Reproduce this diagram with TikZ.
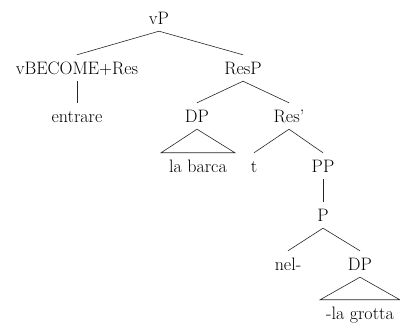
\documentclass[tikz,border=0pt]{standalone}
\begin{document}
\begin{tikzpicture}[x=1pt,y=-1pt,
  lbl/.style={anchor=base,font=\fontsize{18}{21}\selectfont,
    text height=12pt,text depth=4pt,inner ysep=2pt,inner xsep=2pt},
  branch/.style={line width=0.6pt,black!85}]
\useasboundingbox (0,0) rectangle (400,323);
% level 0
\node[lbl] (vP) at (159,25) {vP};
% level 1
\node[lbl] (vbec) at (77,75) {vBECOME+Res};
\node[lbl] (ResP) at (243,75) {ResP};
% level 2
\node[lbl] (entr) at (77,123) {entrare};
\node[lbl] (DPa) at (197,123) {DP};
\node[lbl] (Resb) at (289,123) {Res'};
% level 3
\node[lbl] (barca) at (198,173) {la barca};
\node[lbl] (t) at (254,173) {t};
\node[lbl] (PP) at (323,173) {PP};
% level 4
\node[lbl] (P) at (323,222) {P};
% level 5
\node[lbl] (nel) at (288,271) {nel-};
\node[lbl] (DPb) at (360,271) {DP};
% level 6
\node[lbl] (grotta) at (360,320) {-la grotta};
% branches
\draw[branch] (vP.south) -- ([yshift=6pt]vbec.north);
\draw[branch] (vP.south) -- ([yshift=6pt]ResP.north);
\draw[branch] (vbec.south) -- ([yshift=6pt]entr.north);
\draw[branch] (ResP.south) -- ([yshift=6pt]DPa.north);
\draw[branch] (ResP.south) -- ([yshift=6pt]Resb.north);
\draw[branch] (Resb.south) -- ([yshift=6pt]t.north);
\draw[branch] (Resb.south) -- ([yshift=6pt]PP.north);
\draw[branch] (PP.south) -- ([yshift=6pt]P.north);
\draw[branch] (P.south) -- ([yshift=6pt]nel.north);
\draw[branch] (P.south) -- ([yshift=6pt]DPb.north);
% roofs over unanalysed phrases
\draw[branch] (DPa.south) -- ([shift={(-6pt,6pt)}]barca.north west)
  -- ([shift={(6pt,6pt)}]barca.north east) -- cycle;
\draw[branch] (DPb.south) -- ([shift={(-4pt,6pt)}]grotta.north west)
  -- ([shift={(4pt,6pt)}]grotta.north east) -- cycle;
\end{tikzpicture}
\end{document}
